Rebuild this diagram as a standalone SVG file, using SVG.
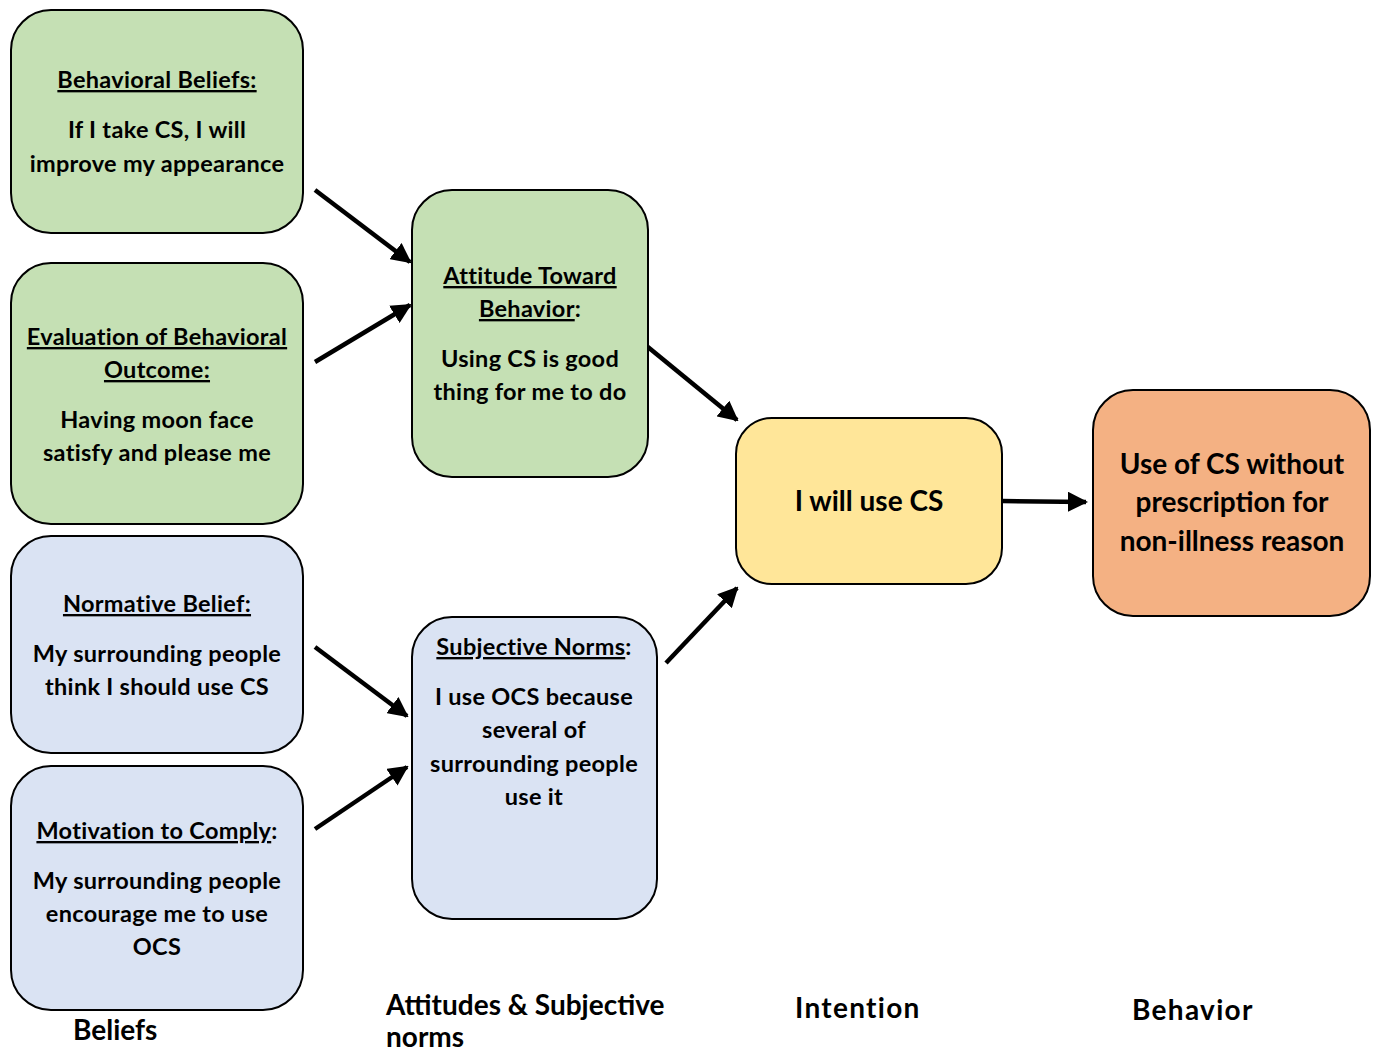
<svg xmlns="http://www.w3.org/2000/svg" width="1373" height="1054" viewBox="0 0 1373 1054">
<style>
.box{stroke:#000;stroke-width:2}
.g{fill:#C5E0B4}.b{fill:#DAE3F3}.y{fill:#FFE699}.o{fill:#F4B183}
text{font-family:Lato,"Open Sans","Liberation Sans",sans-serif;font-weight:bold;fill:#000}
.t{font-size:23.5px;letter-spacing:0.3px;text-anchor:middle}
.u{text-decoration:underline}
.big{font-size:28px;text-anchor:middle}
.lab{font-size:28px}
.ls{letter-spacing:1.3px}
.c{stroke:#000;stroke-width:4.5;fill:none;marker-end:url(#ah)}
</style>
<defs>
<marker id="ah" viewBox="0 0 10 10" refX="9" refY="5" markerWidth="4.5" markerHeight="4.5" orient="auto" markerUnits="strokeWidth">
<path d="M0,0 L10,5 L0,10 z" fill="#000"/>
</marker>
</defs>
<rect width="1373" height="1054" fill="#fff"/>
<g id="connectors">
<line class="c" x1="315" y1="190" x2="410" y2="262"/>
<line class="c" x1="315" y1="362" x2="410" y2="305"/>
<line class="c" x1="643" y1="343" x2="737" y2="420"/>
<line class="c" x1="666" y1="663" x2="737" y2="588"/>
<line class="c" x1="1002" y1="501" x2="1086" y2="502"/>
<line class="c" x1="315" y1="647" x2="407" y2="716"/>
<line class="c" x1="315" y1="829" x2="407" y2="767"/>
</g>
<g id="behavioral-beliefs">
<rect class="box g" x="11" y="10" width="292" height="223" rx="40"/>
<text class="t" x="157" y="88"><tspan class="u">Behavioral Beliefs:</tspan></text>
<text class="t" x="157" y="138">If I take CS, I will</text>
<text class="t" x="157" y="172">improve my appearance</text>
</g>
<g id="evaluation">
<rect class="box g" x="11" y="263" width="292" height="261" rx="40"/>
<text class="t" x="157" y="345"><tspan class="u">Evaluation of Behavioral</tspan></text>
<text class="t" x="157" y="378"><tspan class="u">Outcome:</tspan></text>
<text class="t" x="157" y="428">Having moon face</text>
<text class="t" x="157" y="461">satisfy and please me</text>
</g>
<g id="normative-belief">
<rect class="box b" x="11" y="536" width="292" height="217" rx="40"/>
<text class="t" x="157" y="612"><tspan class="u">Normative Belief:</tspan></text>
<text class="t" x="157" y="662">My surrounding people</text>
<text class="t" x="157" y="695">think I should use CS</text>
</g>
<g id="motivation">
<rect class="box b" x="11" y="766" width="292" height="244" rx="40"/>
<text class="t" x="157" y="839"><tspan class="u">Motivation to Comply</tspan>:</text>
<text class="t" x="157" y="889">My surrounding people</text>
<text class="t" x="157" y="922">encourage me to use</text>
<text class="t" x="157" y="955">OCS</text>
</g>
<g id="attitude">
<rect class="box g" x="412" y="190" width="236" height="287" rx="40"/>
<text class="t" x="530" y="284"><tspan class="u">Attitude Toward</tspan></text>
<text class="t" x="530" y="317"><tspan class="u">Behavior</tspan>:</text>
<text class="t" x="530" y="367">Using CS is good</text>
<text class="t" x="530" y="400">thing for me to do</text>
</g>
<g id="subjective-norms">
<rect class="box b" x="412" y="617" width="245" height="302" rx="40"/>
<text class="t" x="534" y="655"><tspan class="u">Subjective Norms</tspan>:</text>
<text class="t" x="534" y="705">I use OCS because</text>
<text class="t" x="534" y="738">several of</text>
<text class="t" x="534" y="772">surrounding people</text>
<text class="t" x="534" y="805">use it</text>
</g>
<g id="intention">
<rect class="box y" x="736" y="418" width="266" height="166" rx="36"/>
<text class="big" x="869" y="511">I will use CS</text>
</g>
<g id="behavior">
<rect class="box o" x="1093" y="390" width="277" height="226" rx="40"/>
<text class="big" x="1232" y="474">Use of CS without</text>
<text class="big" x="1232" y="512">prescription for</text>
<text class="big" x="1232" y="551">non-illness reason</text>
</g>
<g id="labels">
<text class="lab" x="73" y="1040">Beliefs</text>
<text class="lab" x="386" y="1015">Attitudes &amp; Subjective</text>
<text class="lab" x="386" y="1047">norms</text>
<text class="lab ls" x="795" y="1018">Intention</text>
<text class="lab ls" x="1132" y="1020">Behavior</text>
</g>
</svg>
